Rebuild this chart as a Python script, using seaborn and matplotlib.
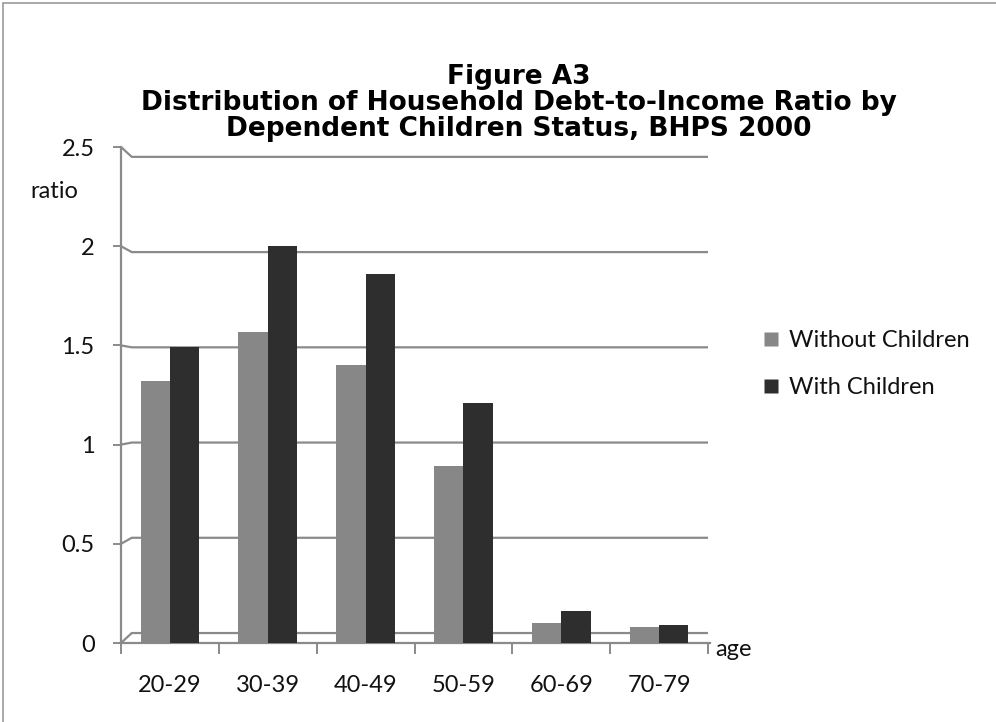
import matplotlib
matplotlib.use("Agg")
import matplotlib.pyplot as plt
import matplotlib.lines as mlines
import seaborn as sns
import pandas as pd
import numpy as np

# Debt-to-income ratio by age band and dependent-children status
age_groups = ["20-29", "30-39", "40-49", "50-59", "60-69", "70-79"]
without_children = [1.32, 1.57, 1.40, 0.89, 0.10, 0.08]
with_children = [1.49, 2.00, 1.86, 1.21, 0.16, 0.09]
series_names = ["Without Children", "With Children"]
y_ticks = [0, 0.5, 1, 1.5, 2, 2.5]
y_tick_labels = ["0", "0.5", "1", "1.5", "2", "2.5"]

df = pd.DataFrame({
    "age": age_groups * 2,
    "ratio": without_children + with_children,
    "status": [series_names[0]] * len(age_groups) + [series_names[1]] * len(age_groups),
})

sns.set_theme(style="white")
plt.rcParams["font.family"] = ["Lato", "DejaVu Sans"]

GRID = "#8a8a8a"
TEXT = "#111111"
FS = 17
palette = {series_names[0]: "#878787", series_names[1]: "#2e2e2e"}

fig = plt.figure(figsize=(9.96, 7.22), dpi=100)
ax = fig.add_axes([121 / 996, 1 - 643 / 722, 587 / 996, 496 / 722])

sns.barplot(data=df, x="age", y="ratio", hue="status", order=age_groups,
            hue_order=series_names, palette=palette, width=0.6, gap=0,
            saturation=1, edgecolor="none", ax=ax, zorder=3, legend=False)

ax.set_xlim(-0.5, 5.5)
ax.set_ylim(0, 2.5)

# back-wall gridlines, drawn slightly in perspective behind the front axis
def back(v):
    return 0.0503 + 0.960 * v

for v in y_ticks:
    ax.plot([-0.5, -0.39, 5.5], [v, back(v), back(v)], color=GRID, lw=1.6,
            zorder=1, clip_on=False, solid_capstyle="butt")

for side in ["top", "right"]:
    ax.spines[side].set_visible(False)
for side in ["left", "bottom"]:
    ax.spines[side].set_color(GRID)
    ax.spines[side].set_linewidth(1.6)
ax.spines["bottom"].set_bounds(-0.5, 5.52)

ax.set_yticks(y_ticks)
ax.set_yticklabels(y_tick_labels)
ax.tick_params(axis="y", which="major", direction="out", length=6, width=1.4,
               color=GRID, labelsize=FS, pad=13, labelcolor=TEXT, left=True)

ax.set_xticks(range(len(age_groups)))
ax.set_xticklabels(age_groups)
ax.set_xticks(np.arange(-0.5, 6.0, 1.0), minor=True)
ax.tick_params(axis="x", which="major", length=0, labelsize=FS, pad=23,
               labelcolor=TEXT)
ax.tick_params(axis="x", which="minor", direction="out", length=8, width=1.4,
               color=GRID, bottom=True)
ax.set_xlabel("")
ax.set_ylabel("")

fig.text(30 / 996, 1 - 192 / 722, "ratio", fontsize=FS, va="center", ha="left",
         color=TEXT)
fig.text(715 / 996, 1 - 650 / 722, "age", fontsize=FS, va="center", ha="left",
         color=TEXT)

fig.text(519 / 996, 1 - 103 / 722,
         "Figure A3\nDistribution of Household Debt-to-Income Ratio by\n"
         "Dependent Children Status, BHPS 2000",
         ha="center", va="center", fontsize=19, fontweight="bold",
         family=["DejaVu Sans"], linespacing=1.0, color="#000000")

handles = [mlines.Line2D([], [], marker="s", linestyle="none", markersize=10,
                         markerfacecolor=palette[n], markeredgecolor="none")
           for n in series_names]
fig.legend(handles, series_names, loc="center left",
           bbox_to_anchor=(762 / 996, 1 - 364 / 722), frameon=False,
           fontsize=FS, handlelength=0.8, handletextpad=0.35, labelspacing=1.1,
           labelcolor=TEXT, borderaxespad=0, borderpad=0)

# outer chart frame
fig.add_artist(plt.Rectangle((3 / 996, -0.01), 1.0, 1 - 3 / 722 + 0.01,
                             transform=fig.transFigure, fill=False,
                             edgecolor="#9a9a9a", lw=1.2))

fig.savefig("out.png", dpi=100)
